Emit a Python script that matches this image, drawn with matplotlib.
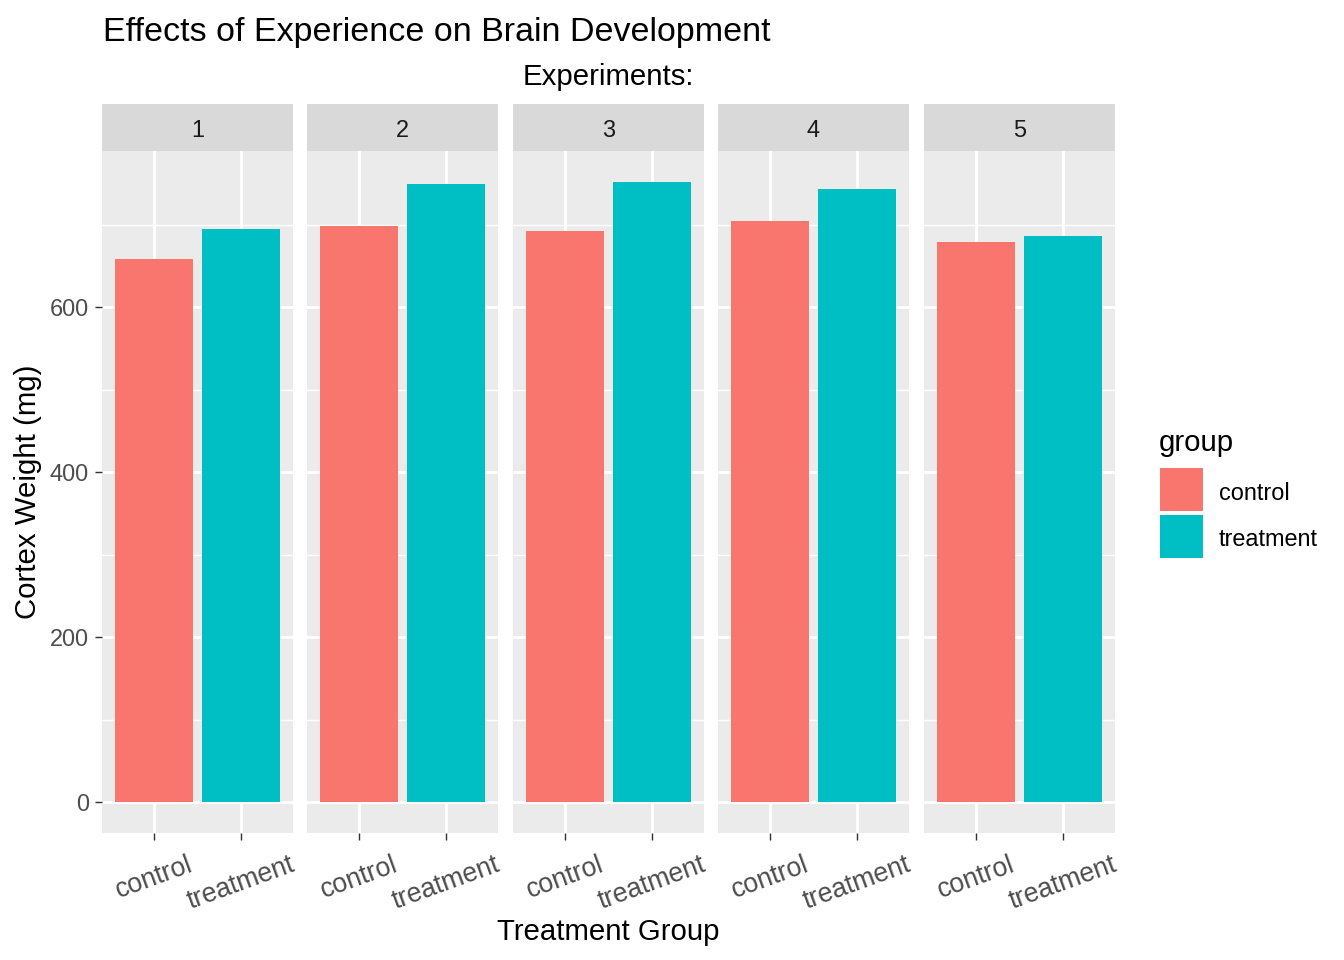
import matplotlib
matplotlib.use("Agg")
import matplotlib.pyplot as plt
from matplotlib.patches import Rectangle

plt.rcParams['font.family'] = ['Liberation Sans', 'DejaVu Sans']

experiments = ['1', '2', '3', '4', '5']
groups = ['control', 'treatment']
control = [659, 699, 693, 705, 679]
treatment = [695, 750, 752, 743, 687]
colors = ['#F8766D', '#00BFC4']

W, H = 1344, 960
fig = plt.figure(figsize=(7, 5), dpi=192)

panel_lefts = [102, 307, 513, 718, 924]
pw = 191
ptop, pbot = 151, 833
stop = 104

ymax = max(max(control), max(treatment))
yl = (-0.05 * ymax, ymax * 1.05)

def fx(x):
    return x / W

def fy(y):
    return 1 - y / H

for i, exp in enumerate(experiments):
    L = panel_lefts[i]
    ax = fig.add_axes([fx(L), fy(pbot), pw / W, (pbot - ptop) / H])
    ax.set_facecolor('#EBEBEB')
    for s in ax.spines.values():
        s.set_visible(False)
    ax.set_xlim(0.4, 2.6)
    ax.set_ylim(*yl)
    ax.set_yticks([0, 200, 400, 600])
    ax.set_yticks([100, 300, 500, 700], minor=True)
    ax.set_xticks([1, 2])
    ax.grid(True, which='major', color='white', linewidth=1.07)
    ax.grid(True, which='minor', axis='y', color='white', linewidth=0.53)
    ax.set_axisbelow(True)
    vals = [control[i], treatment[i]]
    ax.bar([1, 2], vals, width=0.9, color=colors, zorder=3)
    ax.set_xticklabels(groups, rotation=20, ha='center', va='top',
                       fontsize=10, color='#4D4D4D')
    ax.tick_params(axis='x', which='major', length=2.75, width=0.53,
                   color='#333333', pad=4.2)
    ax.tick_params(axis='y', which='major', length=2.75, width=0.53,
                   color='#333333', pad=2.2)
    ax.tick_params(axis='y', which='minor', length=0)
    if i == 0:
        ax.set_yticklabels(['0', '200', '400', '600'], fontsize=8.8, color='#4D4D4D')
    else:
        ax.tick_params(axis='y', which='both', left=False, labelleft=False)
    # strip
    sax = fig.add_axes([fx(L), fy(ptop), pw / W, (ptop - stop) / H])
    sax.set_facecolor('#D9D9D9')
    for s in sax.spines.values():
        s.set_visible(False)
    sax.set_xticks([])
    sax.set_yticks([])
    sax.text(0.5, 0.43, exp, ha='center', va='center', fontsize=8.8,
             color='#1A1A1A', transform=sax.transAxes)

fig.text(fx(103), fy(32), 'Effects of Experience on Brain Development',
         ha='left', va='center', fontsize=12.75, color='black')
fig.text(fx(608), fy(77), 'Experiments:', ha='center', va='center',
         fontsize=11, color='black')
fig.text(fx(608), fy(932), 'Treatment Group', ha='center', va='center',
         fontsize=11, color='black')
fig.text(fx(28), fy(492), 'Cortex Weight (mg)', ha='center', va='center',
         rotation=90, fontsize=11, color='black')

# legend
fig.text(fx(1159), fy(443), 'group', ha='left', va='center', fontsize=11)
key_tops = [468, 515]
for k, (g, c) in enumerate(zip(groups, colors)):
    t = key_tops[k]
    fig.add_artist(Rectangle((fx(1160), fy(t + 43)), 43 / W, 43 / H,
                             transform=fig.transFigure, facecolor=c,
                             edgecolor='none'))
    fig.text(fx(1219), fy(t + 25), g, ha='left', va='center', fontsize=8.8)

fig.savefig('out.png', dpi=192)
